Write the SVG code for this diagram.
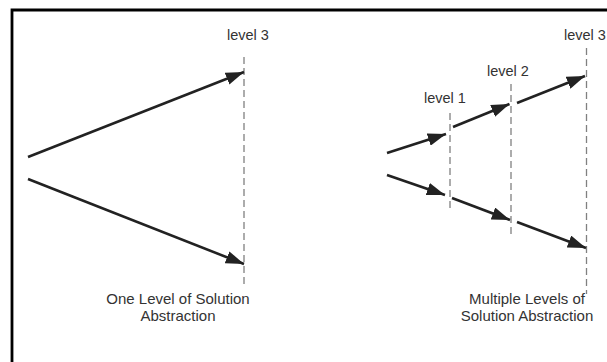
<svg xmlns="http://www.w3.org/2000/svg" width="607" height="362" viewBox="0 0 607 362">
<style>
.frame{fill:none;stroke:#000;stroke-width:2.8}
.dash{fill:none;stroke:#808080;stroke-width:1.3;stroke-dasharray:7 4}
.arr{fill:none;stroke:#222;stroke-width:2.6;marker-end:url(#ah)}
.lbl{font-family:"Liberation Sans",Arial,sans-serif;font-size:14.5px;fill:#333}
.cap{font-family:"Liberation Sans",Arial,sans-serif;font-size:15px;fill:#333;text-anchor:middle}
</style>
<defs>
<marker id="ah" viewBox="0 0 10 7" refX="10" refY="3.5" markerWidth="7" markerHeight="4.9" orient="auto" markerUnits="strokeWidth">
<path d="M0,0 L10,3.5 L0,7 Z" fill="#222"/>
</marker>
</defs>
<path class="frame" d="M12,362 V10 H607"/>
<g id="levels">
<g id="left-level3"><line class="dash" x1="244" y1="57" x2="244" y2="287"/><text class="lbl" x="227" y="40">level 3</text></g>
<g id="right-level1"><line class="dash" x1="450" y1="113" x2="450" y2="211"/><text class="lbl" x="424" y="103">level 1</text></g>
<g id="right-level2"><line class="dash" x1="511" y1="84" x2="511" y2="237"/><text class="lbl" x="487" y="76">level 2</text></g>
<g id="right-level3"><line class="dash" x1="586.5" y1="48" x2="586.5" y2="294"/><text class="lbl" x="564" y="40">level 3</text></g>
</g>
<g id="connectors">
<line class="arr" x1="28" y1="157" x2="244" y2="72"/>
<line class="arr" x1="28" y1="179" x2="244" y2="264"/>
<line class="arr" x1="387" y1="153" x2="446" y2="134"/>
<line class="arr" x1="453" y1="127" x2="509.5" y2="104"/>
<line class="arr" x1="517" y1="103" x2="585" y2="76"/>
<line class="arr" x1="387" y1="175" x2="445" y2="195"/>
<line class="arr" x1="452" y1="198" x2="510" y2="220"/>
<line class="arr" x1="517" y1="222" x2="586" y2="248"/>
</g>
<g id="captions">
<text class="cap" x="178" y="304">One Level of Solution</text>
<text class="cap" x="178" y="321">Abstraction</text>
<text class="cap" x="527" y="304">Multiple Levels of</text>
<text class="cap" x="527" y="321">Solution Abstraction</text>
</g>
</svg>
